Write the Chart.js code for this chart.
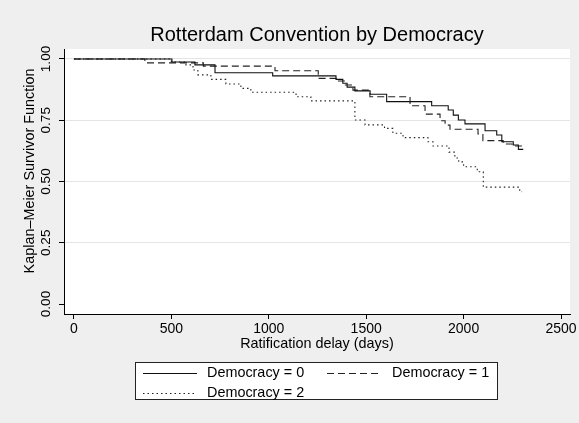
<!DOCTYPE html>
<html><head><meta charset="utf-8">
<script src="https://cdn.jsdelivr.net/npm/chart.js@4.4.1/dist/chart.umd.min.js"></script>
<style>html,body{margin:0;padding:0;background:#efefef;overflow:hidden}#wrap{width:579px;height:423px}</style>
</head><body><div id="wrap"><canvas id="c" width="579" height="423"></canvas></div>
<script>
const chartTitle = 'Rotterdam Convention by Democracy';
const xAxisTitle = 'Ratification delay (days)';
const yAxisTitle = 'Kaplan\u2013Meier Survivor Function';
const seriesLabels = ['Democracy = 0', 'Democracy = 1', 'Democracy = 2'];
const xTicks = [0, 500, 1000, 1500, 2000, 2500];
const xTickLabels = ['0', '500', '1000', '1500', '2000', '2500'];
const yTicks = [0, 0.25, 0.5, 0.75, 1];
const yTickLabels = ['0.00', '0.25', '0.50', '0.75', '1.00'];

// Democracy = 0 (solid)
const days0 = [0, 503, 621, 724, 1020, 1345, 1380, 1402, 1442, 1520, 1605, 1836, 1921, 1947, 1973, 2007, 2110, 2170, 2196, 2255, 2281, 2306];
const surv0 = [1.000, 0.988, 0.976, 0.944, 0.931, 0.917, 0.901, 0.885, 0.870, 0.856, 0.826, 0.809, 0.792, 0.771, 0.751, 0.735, 0.707, 0.690, 0.662, 0.649, 0.631, 0.631];
// Democracy = 1 (dashed)
const days1 = [0, 364, 664, 1032, 1254, 1348, 1393, 1432, 1519, 1725, 1802, 1879, 1905, 1930, 2074, 2099, 2203, 2249, 2300, 2306];
const surv1 = [1.000, 0.984, 0.971, 0.952, 0.921, 0.910, 0.894, 0.873, 0.846, 0.809, 0.775, 0.748, 0.730, 0.713, 0.694, 0.667, 0.653, 0.645, 0.635, 0.635];
// Democracy = 2 (dotted)
const days2 = [0, 500, 575, 611, 636, 703, 780, 857, 908, 1140, 1216, 1442, 1494, 1594, 1637, 1689, 1817, 1843, 1925, 1955, 1975, 2000, 2070, 2101, 2288, 2300];
const surv2 = [1.000, 0.988, 0.976, 0.955, 0.935, 0.917, 0.898, 0.880, 0.864, 0.846, 0.829, 0.751, 0.731, 0.717, 0.697, 0.679, 0.662, 0.645, 0.620, 0.596, 0.580, 0.560, 0.540, 0.477, 0.458, 0.458];

const FONT = "'Liberation Sans', Arial, Helvetica, sans-serif";
Chart.defaults.font.family = FONT;
Chart.defaults.color = '#000';

const pts = (d, s) => d.map((x, i) => ({ x: x, y: s[i] }));
const styles = [
  { borderColor: '#111', borderDash: [] },
  { borderColor: '#222', borderDash: [7, 4] },
  { borderColor: '#222', borderDash: [1.5, 3] }
];
const datasets = [[days0, surv0], [days1, surv1], [days2, surv2]].map(([d, s], i) => Object.assign({
  label: seriesLabels[i], data: pts(d, s), stepped: true, borderWidth: 1.1,
  pointRadius: 0, pointHoverRadius: 0, fill: false, tension: 0
}, styles[i]));

const bgPlugin = {
  id: 'bg',
  beforeDraw(chart) {
    const { ctx, chartArea: a } = chart;
    ctx.save();
    ctx.fillStyle = '#efefef';
    ctx.fillRect(0, 0, chart.width, chart.height);
    ctx.fillStyle = '#ffffff';
    ctx.fillRect(a.left, a.top, a.right - a.left, a.bottom - a.top);
    ctx.restore();
  }
};

const textPlugin = {
  id: 'texts',
  afterDraw(chart) {
    const { ctx, chartArea: a } = chart;
    const ys = chart.scales.y;
    ctx.save();
    ctx.fillStyle = '#000';
    ctx.textAlign = 'center';
    ctx.textBaseline = 'middle';
    // title
    ctx.font = '20px ' + FONT;
    ctx.fillText(chartTitle, (a.left + a.right) / 2, 35);
    // y tick labels rotated
    ctx.font = '13.5px ' + FONT;
    yTicks.forEach((v, i) => {
      const py = ys.getPixelForValue(v);
      ctx.save();
      ctx.translate(46.5, py);
      ctx.rotate(-Math.PI / 2);
      ctx.fillText(yTickLabels[i], 0, 0);
      ctx.restore();
    });
    // y title
    ctx.font = '14.4px ' + FONT;
    ctx.save();
    ctx.translate(30.5, 171);
    ctx.rotate(-Math.PI / 2);
    ctx.fillText(yAxisTitle, 0, 0);
    ctx.restore();
    // legend
    const lx = 135.5, ly = 362.5, lw = 362, lh = 37;
    ctx.fillStyle = '#fff';
    ctx.fillRect(lx, ly, lw, lh);
    ctx.strokeStyle = '#222';
    ctx.lineWidth = 1;
    ctx.setLineDash([]);
    ctx.strokeRect(lx, ly, lw, lh);
    const items = [
      { ds: 0, x1: 143, x2: 197, tx: 207, y: 373.5 },
      { ds: 1, x1: 327, x2: 382, tx: 392, y: 373.5 },
      { ds: 2, x1: 143, x2: 197, tx: 207, y: 393.5 }
    ];
    ctx.font = '14.4px ' + FONT;
    ctx.textAlign = 'left';
    items.forEach(it => {
      const ds = chart.data.datasets[it.ds];
      ctx.strokeStyle = ds.borderColor;
      ctx.lineWidth = ds.borderWidth;
      ctx.setLineDash(ds.borderDash || []);
      ctx.beginPath();
      ctx.moveTo(it.x1, it.y);
      ctx.lineTo(it.x2, it.y);
      ctx.stroke();
      ctx.setLineDash([]);
      ctx.fillStyle = '#000';
      ctx.fillText(ds.label, it.tx, it.y);
    });
    ctx.restore();
  }
};

new Chart(document.getElementById('c'), {
  type: 'line',
  data: { datasets: datasets },
  plugins: [bgPlugin, textPlugin],
  options: {
    responsive: false,
    animation: false,
    devicePixelRatio: 1,
    layout: { padding: { left: 59, right: 9, top: 49, bottom: 71.8 } },
    plugins: { legend: { display: false }, title: { display: false }, tooltip: { enabled: false } },
    scales: {
      x: {
        type: 'linear', min: -51, max: 2546,
        afterBuildTicks: s => { s.ticks = xTicks.map(v => ({ value: v })); },
        ticks: { font: { size: 14 }, padding: 2, color: '#000', maxRotation: 0, minRotation: 0, autoSkip: false,
          callback: (v, i) => xTickLabels[i] },
        grid: { drawOnChartArea: false, tickLength: 5, tickColor: '#000', tickWidth: 1 },
        border: { display: true, color: '#000', width: 1 },
        title: { display: true, text: xAxisTitle, font: { size: 14.4, lineHeight: 1 }, padding: { top: -3, bottom: 0 }, color: '#000' }
      },
      y: {
        type: 'linear', min: -0.0408, max: 1.0408,
        afterBuildTicks: s => { s.ticks = yTicks.map(v => ({ value: v })); },
        ticks: { display: false },
        grid: { tickLength: 5, tickColor: '#000', tickWidth: 1, lineWidth: 1,
          color: c => (c.tick && c.tick.value === 0) ? 'rgba(0,0,0,0)' : '#e4e4e4' },
        border: { display: true, color: '#000', width: 1 }
      }
    }
  }
});
</script></body></html>
